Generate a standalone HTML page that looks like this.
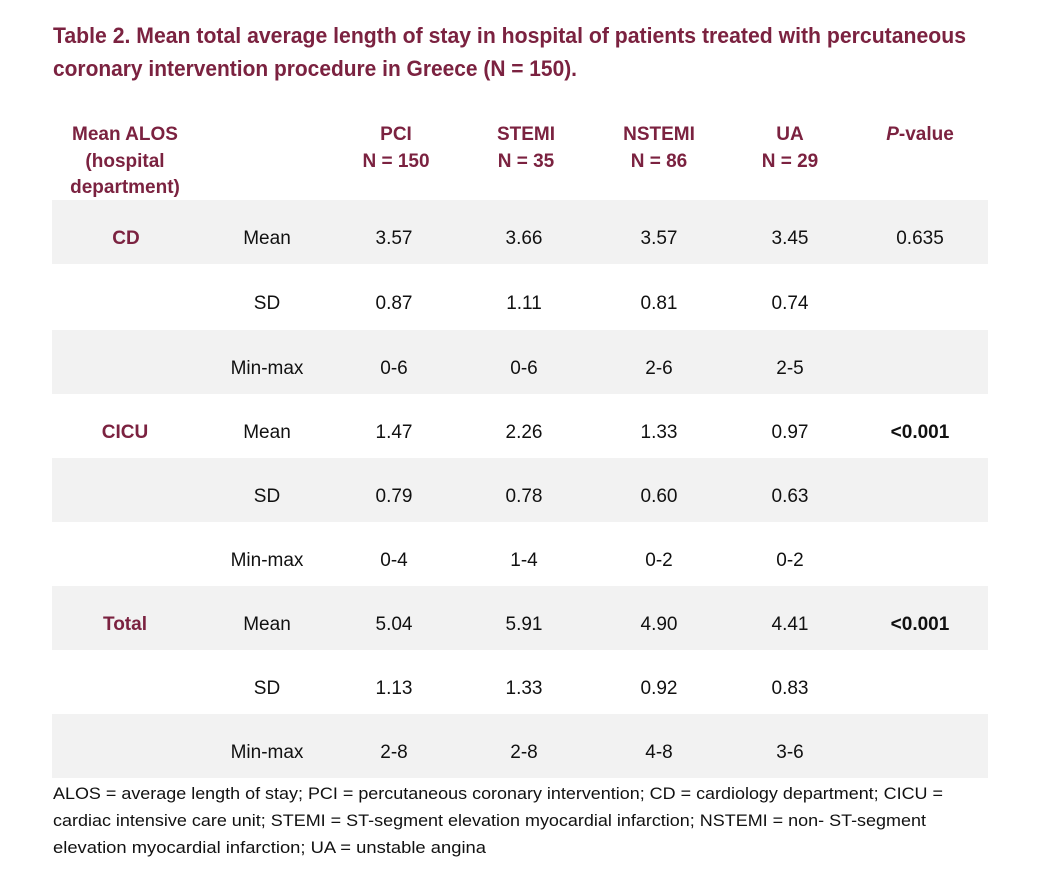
<!DOCTYPE html>
<html><head><meta charset="utf-8"><style>
html,body{margin:0;padding:0;background:#fff;}
svg{display:block;}
text{font-family:"Liberation Sans",sans-serif;}
.t{font-weight:bold;fill:#7b2240;font-size:22px;}
.h{font-weight:bold;fill:#7b2240;font-size:19px;text-anchor:middle;}
.d{fill:#111;font-size:19px;text-anchor:middle;}
.b{font-weight:bold;}
.f{fill:#111;font-size:16.5px;}
</style></head><body>
<svg width="1038" height="872" viewBox="0 0 1038 872" xmlns="http://www.w3.org/2000/svg">
<rect width="1038" height="872" fill="#fff"/>
<text class="t" x="53" y="43" textLength="913" lengthAdjust="spacingAndGlyphs">Table 2. Mean total average length of stay in hospital of patients treated with percutaneous</text>
<text class="t" x="53" y="76" textLength="524" lengthAdjust="spacingAndGlyphs">coronary intervention procedure in Greece (N = 150).</text>

<text class="h" x="125" y="140">Mean ALOS</text>
<text class="h" x="125" y="167">(hospital</text>
<text class="h" x="125" y="193">department)</text>
<text class="h" x="396" y="140">PCI</text><text class="h" x="396" y="167">N = 150</text>
<text class="h" x="526" y="140">STEMI</text><text class="h" x="526" y="167">N = 35</text>
<text class="h" x="659" y="140">NSTEMI</text><text class="h" x="659" y="167">N = 86</text>
<text class="h" x="790" y="140">UA</text><text class="h" x="790" y="167">N = 29</text>
<text class="h" x="920" y="140"><tspan font-style="italic">P</tspan>-value</text>

<rect x="52" y="200" width="936" height="64" fill="#f2f2f2"/>
<rect x="52" y="330" width="936" height="64" fill="#f2f2f2"/>
<rect x="52" y="458" width="936" height="64" fill="#f2f2f2"/>
<rect x="52" y="586" width="936" height="64" fill="#f2f2f2"/>
<rect x="52" y="714" width="936" height="64" fill="#f2f2f2"/>

<!-- CD -->
<text class="h" x="126" y="244">CD</text>
<text class="d" x="267" y="244">Mean</text><text class="d" x="394" y="244">3.57</text><text class="d" x="524" y="244">3.66</text><text class="d" x="659" y="244">3.57</text><text class="d" x="790" y="244">3.45</text><text class="d" x="920" y="244">0.635</text>
<text class="d" x="267" y="309">SD</text><text class="d" x="394" y="309">0.87</text><text class="d" x="524" y="309">1.11</text><text class="d" x="659" y="309">0.81</text><text class="d" x="790" y="309">0.74</text>
<text class="d" x="267" y="374">Min-max</text><text class="d" x="394" y="374">0-6</text><text class="d" x="524" y="374">0-6</text><text class="d" x="659" y="374">2-6</text><text class="d" x="790" y="374">2-5</text>
<!-- CICU -->
<text class="h" x="125" y="438">CICU</text>
<text class="d" x="267" y="438">Mean</text><text class="d" x="394" y="438">1.47</text><text class="d" x="524" y="438">2.26</text><text class="d" x="659" y="438">1.33</text><text class="d" x="790" y="438">0.97</text><text class="d b" x="920" y="438">&lt;0.001</text>
<text class="d" x="267" y="502">SD</text><text class="d" x="394" y="502">0.79</text><text class="d" x="524" y="502">0.78</text><text class="d" x="659" y="502">0.60</text><text class="d" x="790" y="502">0.63</text>
<text class="d" x="267" y="566">Min-max</text><text class="d" x="394" y="566">0-4</text><text class="d" x="524" y="566">1-4</text><text class="d" x="659" y="566">0-2</text><text class="d" x="790" y="566">0-2</text>
<!-- Total -->
<text class="h" x="125" y="630">Total</text>
<text class="d" x="267" y="630">Mean</text><text class="d" x="394" y="630">5.04</text><text class="d" x="524" y="630">5.91</text><text class="d" x="659" y="630">4.90</text><text class="d" x="790" y="630">4.41</text><text class="d b" x="920" y="630">&lt;0.001</text>
<text class="d" x="267" y="694">SD</text><text class="d" x="394" y="694">1.13</text><text class="d" x="524" y="694">1.33</text><text class="d" x="659" y="694">0.92</text><text class="d" x="790" y="694">0.83</text>
<text class="d" x="267" y="758">Min-max</text><text class="d" x="394" y="758">2-8</text><text class="d" x="524" y="758">2-8</text><text class="d" x="659" y="758">4-8</text><text class="d" x="790" y="758">3-6</text>

<text class="f" x="53" y="799" textLength="890" lengthAdjust="spacingAndGlyphs">ALOS = average length of stay; PCI = percutaneous coronary intervention; CD = cardiology department; CICU =</text>
<text class="f" x="53" y="826" textLength="873" lengthAdjust="spacingAndGlyphs">cardiac intensive care unit; STEMI = ST-segment elevation myocardial infarction; NSTEMI = non- ST-segment</text>
<text class="f" x="53" y="853" textLength="433" lengthAdjust="spacingAndGlyphs">elevation myocardial infarction; UA = unstable angina</text>
</svg>
</body></html>
